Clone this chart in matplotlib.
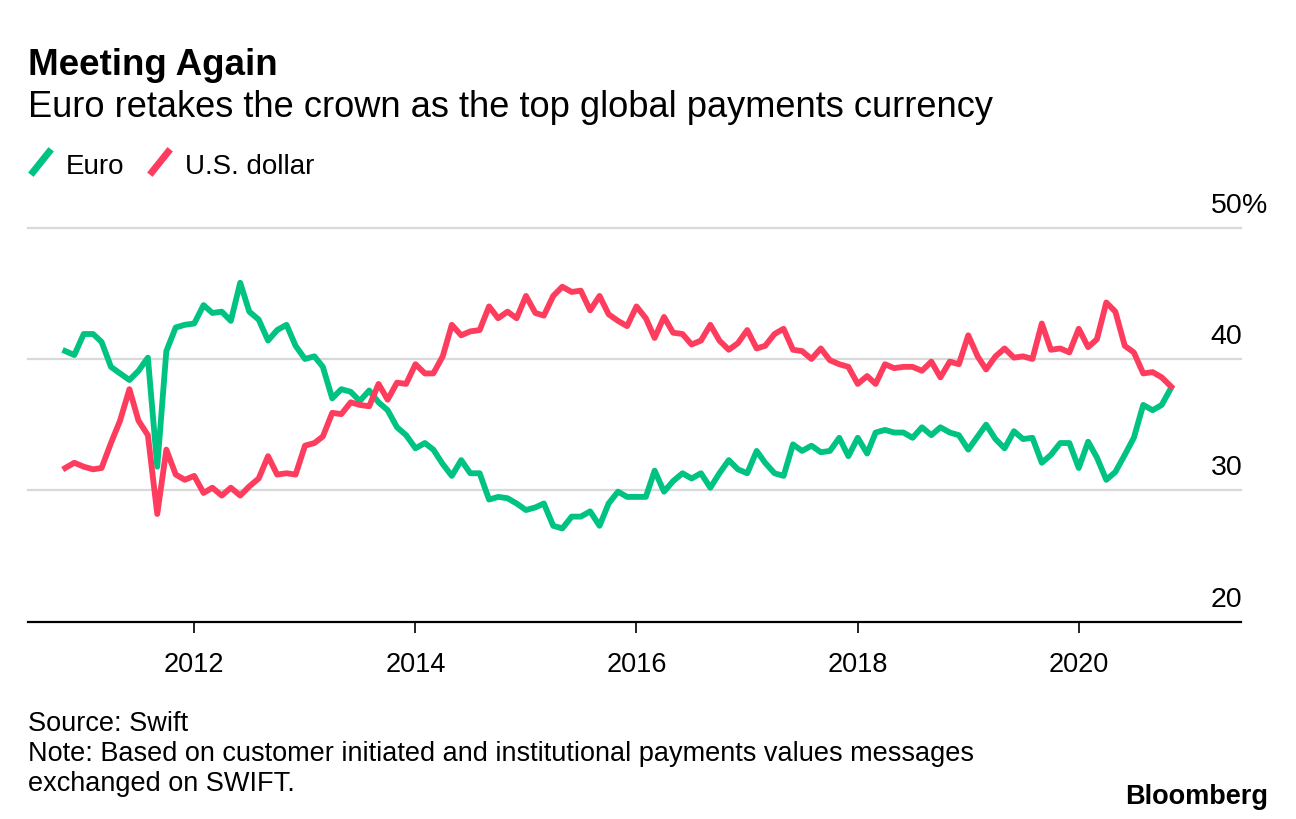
import numpy as np
import pandas as pd
import matplotlib
matplotlib.use('Agg')
import matplotlib.pyplot as plt
from matplotlib.lines import Line2D

# Share of global payments by currency, monthly, Nov 2010 - Nov 2020 (%)
dates = pd.date_range('2010-11-01', periods=121, freq='MS')

euro = [
    40.6, 40.3, 41.9, 41.9, 41.3, 39.4, 38.9, 38.4, 39.1, 40.1,
    31.8, 40.6, 42.4, 42.6, 42.7, 44.1, 43.5, 43.6, 42.9, 45.8,
    43.6, 43.0, 41.4, 42.2, 42.6, 41.0, 40.0, 40.2, 39.4, 37.0,
    37.7, 37.5, 36.8, 37.6, 36.7, 36.1, 34.8, 34.2, 33.2, 33.6,
    33.1, 32.0, 31.1, 32.3, 31.3, 31.3, 29.3, 29.5, 29.4, 29.0,
    28.5, 28.7, 29.0, 27.3, 27.1, 28.0, 28.0, 28.4, 27.3, 29.0,
    29.9, 29.5, 29.5, 29.5, 31.5, 29.9, 30.7, 31.3, 30.9, 31.3,
    30.2, 31.3, 32.3, 31.6, 31.3, 33.0, 32.1, 31.3, 31.1, 33.5,
    33.0, 33.4, 32.9, 33.0, 34.0, 32.6, 34.0, 32.8, 34.4, 34.6,
    34.4, 34.4, 34.0, 34.8, 34.2, 34.8, 34.4, 34.2, 33.1, 34.1,
    35.0, 33.9, 33.2, 34.5, 33.9, 34.0, 32.1, 32.7, 33.6, 33.6,
    31.7, 33.7, 32.5, 30.8, 31.4, 32.7, 34.0, 36.5, 36.1, 36.5,
    37.8,
]

usd = [
    31.7, 32.1, 31.8, 31.6, 31.7, 33.6, 35.3, 37.7, 35.3, 34.2,
    28.2, 33.1, 31.2, 30.8, 31.1, 29.8, 30.2, 29.6, 30.2, 29.6,
    30.3, 30.9, 32.6, 31.2, 31.3, 31.2, 33.4, 33.6, 34.1, 35.9,
    35.8, 36.7, 36.5, 36.4, 38.1, 36.9, 38.2, 38.1, 39.6, 38.9,
    38.9, 40.2, 42.6, 41.8, 42.1, 42.2, 44.0, 43.1, 43.6, 43.1,
    44.8, 43.5, 43.3, 44.8, 45.5, 45.1, 45.2, 43.7, 44.8, 43.4,
    42.9, 42.5, 44.0, 43.1, 41.6, 43.2, 42.0, 41.9, 41.1, 41.4,
    42.6, 41.4, 40.7, 41.2, 42.2, 40.8, 41.0, 41.9, 42.3, 40.7,
    40.6, 40.0, 40.8, 39.9, 39.6, 39.4, 38.1, 38.7, 38.1, 39.6,
    39.3, 39.4, 39.4, 39.1, 39.8, 38.6, 39.8, 39.6, 41.8, 40.2,
    39.2, 40.2, 40.8, 40.1, 40.2, 40.0, 42.7, 40.7, 40.8, 40.5,
    42.3, 40.9, 41.5, 44.3, 43.6, 41.0, 40.5, 38.9, 39.0, 38.6,
    37.9,
]

year_ticks = [2012, 2014, 2016, 2018, 2020]
y_ticks = [20, 30, 40, 50]

GREEN = '#00c383'
RED = '#fe3d5e'
FONT = 'Liberation Sans'

plt.rcParams['font.family'] = [FONT, 'DejaVu Sans']

W, H = 1296, 820
fig = plt.figure(figsize=(W / 100, H / 100), dpi=100)


def fy(py):
    """Convert a pixel row (from the top) to figure fraction."""
    return 1 - py / H


ax = fig.add_axes([28 / W, fy(622.7), (1241 - 28) / W, (622.7 - 228.6) / H])

ax.plot(dates, euro, color=GREEN, lw=4.2, solid_joinstyle='round', zorder=3)
ax.plot(dates, usd, color=RED, lw=4.2, solid_joinstyle='round', zorder=3)

ax.set_xlim(pd.Timestamp('2010-07-01'), pd.Timestamp('2021-06-20'))
ax.set_ylim(20, 50)

# gridlines
for v in y_ticks[1:]:
    ax.axhline(v, color='#d9d9d9', lw=1.6, zorder=1, clip_on=False)

for s in ['top', 'left', 'right']:
    ax.spines[s].set_visible(False)
ax.spines['bottom'].set_linewidth(1.6)
ax.spines['bottom'].set_zorder(4)

ax.set_yticks([])
ax.set_xticks([pd.Timestamp(f'{y}-01-01') for y in year_ticks])
ax.set_xticklabels([str(y) for y in year_ticks], fontsize=19.5)
ax.tick_params(axis='x', length=8, width=1.2, pad=13, color='black')

# y labels sit above the gridlines on the right
for v in y_ticks:
    ax.annotate(str(v), xy=(1.0, v), xycoords=('axes fraction', 'data'),
                xytext=(1, 11.5), textcoords='offset points',
                ha='right', va='baseline', fontsize=20.5)
ax.annotate('%', xy=(1.0, 50), xycoords=('axes fraction', 'data'),
            xytext=(1, 11.5), textcoords='offset points',
            ha='left', va='baseline', fontsize=20.5)

# titles
fig.text(28 / W, fy(75), 'Meeting Again', fontsize=26.5, fontweight='bold',
         ha='left', va='baseline')
fig.text(28 / W, fy(117), 'Euro retakes the crown as the top global payments currency',
         fontsize=26.1, ha='left', va='baseline')

# legend
fig.add_artist(Line2D([33 / W, 49 / W], [fy(173), fy(153)], color=GREEN, lw=5,
                      transform=fig.transFigure))
fig.text(66 / W, fy(174), 'Euro', fontsize=20, ha='left', va='baseline')
fig.add_artist(Line2D([152 / W, 168 / W], [fy(173), fy(153)], color=RED, lw=5,
                      transform=fig.transFigure))
fig.text(185 / W, fy(174), 'U.S. dollar', fontsize=20, ha='left', va='baseline')

# footer
fig.text(28 / W, fy(731), 'Source: Swift', fontsize=19.5, ha='left', va='baseline')
fig.text(28 / W, fy(761),
         'Note: Based on customer initiated and institutional payments values messages',
         fontsize=19.5, ha='left', va='baseline')
fig.text(28 / W, fy(791), 'exchanged on SWIFT.', fontsize=19.5, ha='left', va='baseline')
fig.text(1268 / W, fy(804), 'Bloomberg', fontsize=19.5, fontweight='bold',
         ha='right', va='baseline')

fig.savefig('out.png', dpi=100, facecolor='white')
